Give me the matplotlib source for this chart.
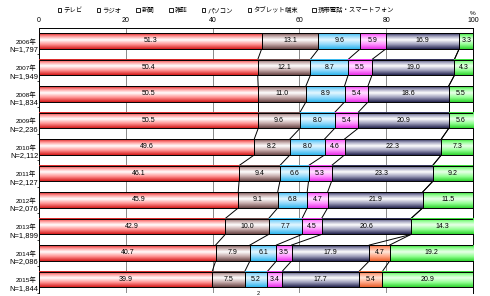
import numpy as np
import matplotlib
matplotlib.use("Agg")
import matplotlib.pyplot as plt
from matplotlib.colors import LinearSegmentedColormap
from matplotlib.patches import Patch

plt.rcParams['font.family'] = ['Liberation Sans', 'Noto Sans CJK JP', 'DejaVu Sans']

years = ['2006年', '2007年', '2008年', '2009年', '2010年',
         '2011年', '2012年', '2013年', '2014年', '2015年']
ns = ['1,797', '1,949', '1,834', '2,236', '2,112',
      '2,127', '2,076', '1,899', '2,086', '1,844']
series_names = ['テレビ', 'ラジオ', '新聞', '雑誌', 'パソコン', 'タブレット端末', '携帯電話・スマートフォン']
tv = [51.3, 50.4, 50.5, 50.5, 49.6, 46.1, 45.9, 42.9, 40.7, 39.9]
radio = [13.1, 12.1, 11.0, 9.6, 8.2, 9.4, 9.1, 10.0, 7.9, 7.5]
news = [9.6, 8.7, 8.9, 8.0, 8.0, 6.6, 6.8, 7.7, 6.1, 5.2]
magazine = [5.9, 5.5, 5.4, 5.4, 4.6, 5.3, 4.7, 4.5, 3.5, 3.4]
pc = [16.9, 19.0, 18.6, 20.9, 22.3, 23.3, 21.9, 20.6, 17.9, 17.7]
tablet = [0, 0, 0, 0, 0, 0, 0, 0, 4.7, 5.4]
mobile = [3.3, 4.3, 5.5, 5.6, 7.3, 9.2, 11.5, 14.3, 19.2, 20.9]
xticks = [0, 20, 40, 60, 80, 100]

series = [tv, radio, news, magazine, pc, tablet, mobile]
# (edge, mid, center) gradient colours
grads = [
    ('#d41c1c', '#ff9090', '#ffffff'),
    ('#6a4646', '#c2a6a6', '#ffffff'),
    ('#2fb4ec', '#8fd8fb', '#e4f7ff'),
    ('#e62ee6', '#ff90ff', '#ffe4ff'),
    ('#262650', '#9a9ab8', '#ffffff'),
    ('#e8602c', '#ffa484', '#ffe8dc'),
    ('#2ed42e', '#90ff90', '#eaffea'),
]

fig = plt.figure(figsize=(4.9, 2.96), dpi=100)
W, H = 490, 296
ax = fig.add_axes([39 / W, 1 - 292.75 / H, 434 / W, (292.75 - 27.75) / H])

n = len(years)
y = np.arange(n)
h = 0.6
data = np.array(series, dtype=float)
cum = np.cumsum(data, axis=0)
lefts = cum - data

gradimg = np.linspace(0, 1, 64).reshape(-1, 1)
for k in range(len(series)):
    e, m, c = grads[k]
    cmap = LinearSegmentedColormap.from_list(
        f's{k}', [(0, e), (0.18, m), (0.42, c), (0.72, m), (1, e)])
    bars = ax.barh(y, data[k], left=lefts[k], height=h, facecolor='none',
                   edgecolor='black', linewidth=0.7, zorder=4)
    for i, rect in enumerate(bars):
        if data[k][i] <= 0:
            rect.set_visible(False)
            continue
        x0 = rect.get_x()
        x1 = x0 + rect.get_width()
        y0 = rect.get_y()
        y1 = y0 + rect.get_height()
        ax.imshow(gradimg, cmap=cmap, extent=(x0, x1, y1, y0), aspect='auto',
                  interpolation='bilinear', zorder=3)
        ax.text((x0 + x1) / 2, y[i], f'{data[k][i]:.1f}', ha='center', va='center',
                fontsize=5, zorder=5)

# series lines
for i in range(n - 1):
    for k in range(len(series) - 1):
        ax.plot([cum[k][i], cum[k][i + 1]], [y[i] + h / 2, y[i + 1] - h / 2],
                color='black', linewidth=0.7, zorder=2.5)

ax.set_xlim(0, 100)
ax.set_ylim(n - 0.5, -0.5)
ax.xaxis.tick_top()
ax.set_xticks(xticks)
ax.set_xticklabels([str(t) for t in xticks], fontsize=5)
ax.tick_params(axis='x', length=0, pad=2.5)
ax.grid(axis='x', color='#8a8a8a', linewidth=0.7, zorder=1)
ax.set_axisbelow(True)
ax.set_yticks([])
ax.set_yticks(np.arange(n) + 0.5, minor=True)
ax.tick_params(axis='y', which='minor', length=1.5, width=0.5, direction='out')
for s in ['left', 'right', 'top']:
    ax.spines[s].set_color('black')
    ax.spines[s].set_linewidth(0.7)
ax.spines['bottom'].set_visible(False)

ytr = ax.get_yaxis_transform()
for i in range(n):
    ax.text(-0.006, y[i] + 0.02, years[i], transform=ytr, ha='right', va='center',
            fontsize=4.6)
    ax.text(-0.002, y[i] + 0.33, 'N=' + ns[i], transform=ytr, ha='right', va='center',
            fontsize=5.4)

ax.text(100, 1.053, '%', transform=ax.get_xaxis_transform(), ha='center',
        va='center', fontsize=4.6)

handles = [Patch(facecolor='white', edgecolor='black', linewidth=0.6) for _ in series_names]
fig.legend(handles, series_names, loc='center', bbox_to_anchor=(226 / W, 1 - 10 / H),
           ncol=7, frameon=False, fontsize=4.6, handlelength=0.55, handleheight=0.55,
           handletextpad=0.3, columnspacing=2.3, borderaxespad=0)

fig.text(258 / W, 0.0, '2', ha='center', va='bottom', fontsize=4)

fig.savefig('out.png', dpi=100)
